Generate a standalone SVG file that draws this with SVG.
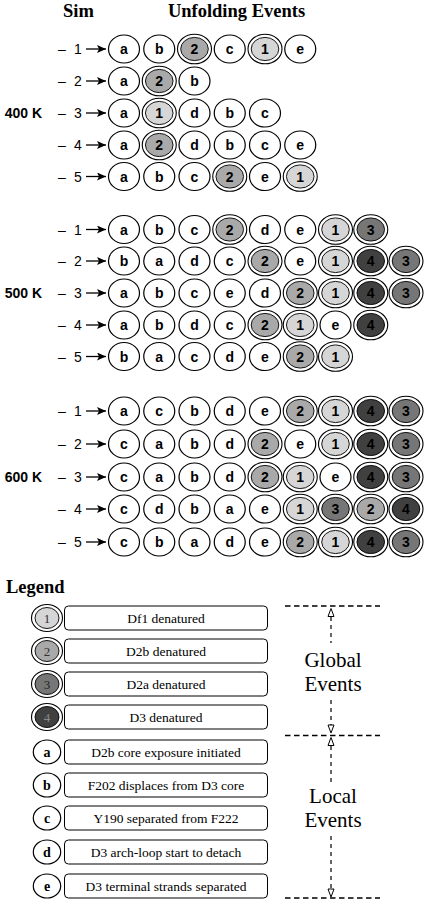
<svg xmlns="http://www.w3.org/2000/svg" xmlns:xlink="http://www.w3.org/1999/xlink" width="426" height="901" viewBox="0 0 426 901">
<style>
.t{font-family:"Liberation Sans",Arial,sans-serif;font-weight:bold;font-size:14px;text-anchor:middle;fill:#000}
.lb{font-family:"Liberation Sans",Arial,sans-serif;font-size:14px;text-anchor:middle;fill:#000}
.temp{font-family:"Liberation Sans",Arial,sans-serif;font-weight:bold;font-size:14px;text-anchor:end;fill:#000}
.hd{font-family:"Liberation Serif","Times New Roman",serif;font-weight:bold;font-size:18.5px;fill:#000}
.lt{font-family:"Liberation Serif","Times New Roman",serif;font-size:13.5px;text-anchor:middle;fill:#000}
.ln{font-family:"Liberation Serif","Times New Roman",serif;font-size:13px;text-anchor:middle;fill:#333}
.ll{font-family:"Liberation Serif","Times New Roman",serif;font-weight:bold;font-size:14px;text-anchor:middle;fill:#000}
.big{font-family:"Liberation Serif","Times New Roman",serif;font-size:21px;text-anchor:middle;fill:#000}
.box{fill:#fff;stroke:#000;stroke-width:1}
.arr{stroke:#000;stroke-width:1.3;fill:none}
.hdash{stroke:#000;stroke-width:1.3;stroke-dasharray:5.5,3.5;fill:none}
.vdash{stroke:#000;stroke-width:1.2;stroke-dasharray:4,4;fill:none}
.oh{fill:#fff;stroke:#000;stroke-width:1}
</style>
<defs>
<ellipse id="pc" rx="15.5" ry="14" fill="#fff" stroke="#000" stroke-width="1.2"/>
<g id="r1"><ellipse rx="17" ry="14.8" fill="#fff" stroke="#000" stroke-width="1.1"/><ellipse rx="13.8" ry="11.6" fill="#d6d6d6" stroke="#000" stroke-width="0.9"/></g>
<g id="r2"><ellipse rx="17" ry="14.8" fill="#fff" stroke="#000" stroke-width="1.1"/><ellipse rx="13.8" ry="11.6" fill="#a9a9a9" stroke="#000" stroke-width="0.9"/></g>
<g id="r3"><ellipse rx="17" ry="14.8" fill="#fff" stroke="#000" stroke-width="1.1"/><ellipse rx="13.8" ry="11.6" fill="#767676" stroke="#000" stroke-width="0.9"/></g>
<g id="r4"><ellipse rx="17" ry="14.8" fill="#fff" stroke="#000" stroke-width="1.1"/><ellipse rx="13.8" ry="11.6" fill="#404040" stroke="#000" stroke-width="0.9"/></g>
<ellipse id="lpc" rx="13.7" ry="12" fill="#fff" stroke="#000" stroke-width="1.2"/>
<g id="lr1"><ellipse rx="15.5" ry="13.5" fill="#fff" stroke="#000" stroke-width="1.1"/><ellipse rx="12" ry="10.5" fill="#d6d6d6" stroke="#000" stroke-width="0.9"/></g>
<g id="lr2"><ellipse rx="15.5" ry="13.5" fill="#fff" stroke="#000" stroke-width="1.1"/><ellipse rx="12" ry="10.5" fill="#a9a9a9" stroke="#000" stroke-width="0.9"/></g>
<g id="lr3"><ellipse rx="15.5" ry="13.5" fill="#fff" stroke="#000" stroke-width="1.1"/><ellipse rx="12" ry="10.5" fill="#767676" stroke="#000" stroke-width="0.9"/></g>
<g id="lr4"><ellipse rx="15.5" ry="13.5" fill="#fff" stroke="#000" stroke-width="1.1"/><ellipse rx="12" ry="10.5" fill="#404040" stroke="#000" stroke-width="0.9"/></g>
<marker id="ah" markerWidth="10" markerHeight="8" refX="9" refY="4" orient="auto" markerUnits="userSpaceOnUse"><path d="M0,0 L9,4 L0,8 L2,4 Z" fill="#000"/></marker>
</defs>
<rect width="426" height="901" fill="#fff"/>

<g id="headers">
<text class="hd" x="78.5" y="16.5" text-anchor="middle">Sim</text>
<text class="hd" x="236.5" y="16.5" text-anchor="middle">Unfolding Events</text>
<text class="temp" x="42" y="118">400 K</text>
<text class="temp" x="42" y="298">500 K</text>
<text class="temp" x="42" y="482">600 K</text>
</g>

<g id="row-labels">
<text class="lb" x="62" y="54">–</text><text class="lb" x="78" y="54">1</text>
<text class="lb" x="62" y="86">–</text><text class="lb" x="78" y="86">2</text>
<text class="lb" x="62" y="118">–</text><text class="lb" x="78" y="118">3</text>
<text class="lb" x="62" y="150">–</text><text class="lb" x="78" y="150">4</text>
<text class="lb" x="62" y="181.5">–</text><text class="lb" x="78" y="181.5">5</text>
<text class="lb" x="62" y="234.5">–</text><text class="lb" x="78" y="234.5">1</text>
<text class="lb" x="62" y="266">–</text><text class="lb" x="78" y="266">2</text>
<text class="lb" x="62" y="298">–</text><text class="lb" x="78" y="298">3</text>
<text class="lb" x="62" y="330">–</text><text class="lb" x="78" y="330">4</text>
<text class="lb" x="62" y="361.5">–</text><text class="lb" x="78" y="361.5">5</text>
<text class="lb" x="62" y="416">–</text><text class="lb" x="78" y="416">1</text>
<text class="lb" x="62" y="449">–</text><text class="lb" x="78" y="449">2</text>
<text class="lb" x="62" y="482">–</text><text class="lb" x="78" y="482">3</text>
<text class="lb" x="62" y="514">–</text><text class="lb" x="78" y="514">4</text>
<text class="lb" x="62" y="547">–</text><text class="lb" x="78" y="547">5</text>
</g>

<g id="connectors">
<line class="arr" x1="86" y1="49" x2="106" y2="49" marker-end="url(#ah)"/>
<line class="arr" x1="86" y1="81" x2="106" y2="81" marker-end="url(#ah)"/>
<line class="arr" x1="86" y1="113" x2="106" y2="113" marker-end="url(#ah)"/>
<line class="arr" x1="86" y1="145" x2="106" y2="145" marker-end="url(#ah)"/>
<line class="arr" x1="86" y1="176.5" x2="106" y2="176.5" marker-end="url(#ah)"/>
<line class="arr" x1="86" y1="229.5" x2="106" y2="229.5" marker-end="url(#ah)"/>
<line class="arr" x1="86" y1="261" x2="106" y2="261" marker-end="url(#ah)"/>
<line class="arr" x1="86" y1="293" x2="106" y2="293" marker-end="url(#ah)"/>
<line class="arr" x1="86" y1="325" x2="106" y2="325" marker-end="url(#ah)"/>
<line class="arr" x1="86" y1="356.5" x2="106" y2="356.5" marker-end="url(#ah)"/>
<line class="arr" x1="86" y1="411" x2="106" y2="411" marker-end="url(#ah)"/>
<line class="arr" x1="86" y1="444" x2="106" y2="444" marker-end="url(#ah)"/>
<line class="arr" x1="86" y1="477" x2="106" y2="477" marker-end="url(#ah)"/>
<line class="arr" x1="86" y1="509" x2="106" y2="509" marker-end="url(#ah)"/>
<line class="arr" x1="86" y1="542" x2="106" y2="542" marker-end="url(#ah)"/>
</g>

<g id="sim400">
<g id="n4-1-1" transform="translate(124,49)"><use href="#pc"/><text class="t" y="5">a</text></g>
<g id="n4-1-2" transform="translate(159.25,49)"><use href="#pc"/><text class="t" y="5">b</text></g>
<g id="n4-1-3" transform="translate(194.5,49)"><use href="#r2"/><text class="t" y="5">2</text></g>
<g id="n4-1-4" transform="translate(229.75,49)"><use href="#pc"/><text class="t" y="5">c</text></g>
<g id="n4-1-5" transform="translate(265,49)"><use href="#r1"/><text class="t" y="5">1</text></g>
<g id="n4-1-6" transform="translate(300.25,49)"><use href="#pc"/><text class="t" y="5">e</text></g>

<g id="n4-2-1" transform="translate(124,81)"><use href="#pc"/><text class="t" y="5">a</text></g>
<g id="n4-2-2" transform="translate(159.25,81)"><use href="#r2"/><text class="t" y="5">2</text></g>
<g id="n4-2-3" transform="translate(194.5,81)"><use href="#pc"/><text class="t" y="5">b</text></g>

<g id="n4-3-1" transform="translate(124,113)"><use href="#pc"/><text class="t" y="5">a</text></g>
<g id="n4-3-2" transform="translate(159.25,113)"><use href="#r1"/><text class="t" y="5">1</text></g>
<g id="n4-3-3" transform="translate(194.5,113)"><use href="#pc"/><text class="t" y="5">d</text></g>
<g id="n4-3-4" transform="translate(229.75,113)"><use href="#pc"/><text class="t" y="5">b</text></g>
<g id="n4-3-5" transform="translate(265,113)"><use href="#pc"/><text class="t" y="5">c</text></g>

<g id="n4-4-1" transform="translate(124,145)"><use href="#pc"/><text class="t" y="5">a</text></g>
<g id="n4-4-2" transform="translate(159.25,145)"><use href="#r2"/><text class="t" y="5">2</text></g>
<g id="n4-4-3" transform="translate(194.5,145)"><use href="#pc"/><text class="t" y="5">d</text></g>
<g id="n4-4-4" transform="translate(229.75,145)"><use href="#pc"/><text class="t" y="5">b</text></g>
<g id="n4-4-5" transform="translate(265,145)"><use href="#pc"/><text class="t" y="5">c</text></g>
<g id="n4-4-6" transform="translate(300.25,145)"><use href="#pc"/><text class="t" y="5">e</text></g>

<g id="n4-5-1" transform="translate(124,176.5)"><use href="#pc"/><text class="t" y="5">a</text></g>
<g id="n4-5-2" transform="translate(159.25,176.5)"><use href="#pc"/><text class="t" y="5">b</text></g>
<g id="n4-5-3" transform="translate(194.5,176.5)"><use href="#pc"/><text class="t" y="5">c</text></g>
<g id="n4-5-4" transform="translate(229.75,176.5)"><use href="#r2"/><text class="t" y="5">2</text></g>
<g id="n4-5-5" transform="translate(265,176.5)"><use href="#pc"/><text class="t" y="5">e</text></g>
<g id="n4-5-6" transform="translate(300.25,176.5)"><use href="#r1"/><text class="t" y="5">1</text></g>
</g>

<g id="sim500">
<g id="n5-1-1" transform="translate(124,229.5)"><use href="#pc"/><text class="t" y="5">a</text></g>
<g id="n5-1-2" transform="translate(159.25,229.5)"><use href="#pc"/><text class="t" y="5">b</text></g>
<g id="n5-1-3" transform="translate(194.5,229.5)"><use href="#pc"/><text class="t" y="5">c</text></g>
<g id="n5-1-4" transform="translate(229.75,229.5)"><use href="#r2"/><text class="t" y="5">2</text></g>
<g id="n5-1-5" transform="translate(265,229.5)"><use href="#pc"/><text class="t" y="5">d</text></g>
<g id="n5-1-6" transform="translate(300.25,229.5)"><use href="#pc"/><text class="t" y="5">e</text></g>
<g id="n5-1-7" transform="translate(335.5,229.5)"><use href="#r1"/><text class="t" y="5">1</text></g>
<g id="n5-1-8" transform="translate(370.75,229.5)"><use href="#r3"/><text class="t" y="5">3</text></g>

<g id="n5-2-1" transform="translate(124,261)"><use href="#pc"/><text class="t" y="5">b</text></g>
<g id="n5-2-2" transform="translate(159.25,261)"><use href="#pc"/><text class="t" y="5">a</text></g>
<g id="n5-2-3" transform="translate(194.5,261)"><use href="#pc"/><text class="t" y="5">d</text></g>
<g id="n5-2-4" transform="translate(229.75,261)"><use href="#pc"/><text class="t" y="5">c</text></g>
<g id="n5-2-5" transform="translate(265,261)"><use href="#r2"/><text class="t" y="5">2</text></g>
<g id="n5-2-6" transform="translate(300.25,261)"><use href="#pc"/><text class="t" y="5">e</text></g>
<g id="n5-2-7" transform="translate(335.5,261)"><use href="#r1"/><text class="t" y="5">1</text></g>
<g id="n5-2-8" transform="translate(370.75,261)"><use href="#r4"/><text class="t" y="5">4</text></g>
<g id="n5-2-9" transform="translate(406,261)"><use href="#r3"/><text class="t" y="5">3</text></g>

<g id="n5-3-1" transform="translate(124,293)"><use href="#pc"/><text class="t" y="5">a</text></g>
<g id="n5-3-2" transform="translate(159.25,293)"><use href="#pc"/><text class="t" y="5">b</text></g>
<g id="n5-3-3" transform="translate(194.5,293)"><use href="#pc"/><text class="t" y="5">c</text></g>
<g id="n5-3-4" transform="translate(229.75,293)"><use href="#pc"/><text class="t" y="5">e</text></g>
<g id="n5-3-5" transform="translate(265,293)"><use href="#pc"/><text class="t" y="5">d</text></g>
<g id="n5-3-6" transform="translate(300.25,293)"><use href="#r2"/><text class="t" y="5">2</text></g>
<g id="n5-3-7" transform="translate(335.5,293)"><use href="#r1"/><text class="t" y="5">1</text></g>
<g id="n5-3-8" transform="translate(370.75,293)"><use href="#r4"/><text class="t" y="5">4</text></g>
<g id="n5-3-9" transform="translate(406,293)"><use href="#r3"/><text class="t" y="5">3</text></g>

<g id="n5-4-1" transform="translate(124,325)"><use href="#pc"/><text class="t" y="5">a</text></g>
<g id="n5-4-2" transform="translate(159.25,325)"><use href="#pc"/><text class="t" y="5">b</text></g>
<g id="n5-4-3" transform="translate(194.5,325)"><use href="#pc"/><text class="t" y="5">d</text></g>
<g id="n5-4-4" transform="translate(229.75,325)"><use href="#pc"/><text class="t" y="5">c</text></g>
<g id="n5-4-5" transform="translate(265,325)"><use href="#r2"/><text class="t" y="5">2</text></g>
<g id="n5-4-6" transform="translate(300.25,325)"><use href="#r1"/><text class="t" y="5">1</text></g>
<g id="n5-4-7" transform="translate(335.5,325)"><use href="#pc"/><text class="t" y="5">e</text></g>
<g id="n5-4-8" transform="translate(370.75,325)"><use href="#r4"/><text class="t" y="5">4</text></g>

<g id="n5-5-1" transform="translate(124,356.5)"><use href="#pc"/><text class="t" y="5">b</text></g>
<g id="n5-5-2" transform="translate(159.25,356.5)"><use href="#pc"/><text class="t" y="5">a</text></g>
<g id="n5-5-3" transform="translate(194.5,356.5)"><use href="#pc"/><text class="t" y="5">c</text></g>
<g id="n5-5-4" transform="translate(229.75,356.5)"><use href="#pc"/><text class="t" y="5">d</text></g>
<g id="n5-5-5" transform="translate(265,356.5)"><use href="#pc"/><text class="t" y="5">e</text></g>
<g id="n5-5-6" transform="translate(300.25,356.5)"><use href="#r2"/><text class="t" y="5">2</text></g>
<g id="n5-5-7" transform="translate(335.5,356.5)"><use href="#r1"/><text class="t" y="5">1</text></g>
</g>

<g id="sim600">
<g id="n6-1-1" transform="translate(124,411)"><use href="#pc"/><text class="t" y="5">a</text></g>
<g id="n6-1-2" transform="translate(159.25,411)"><use href="#pc"/><text class="t" y="5">c</text></g>
<g id="n6-1-3" transform="translate(194.5,411)"><use href="#pc"/><text class="t" y="5">b</text></g>
<g id="n6-1-4" transform="translate(229.75,411)"><use href="#pc"/><text class="t" y="5">d</text></g>
<g id="n6-1-5" transform="translate(265,411)"><use href="#pc"/><text class="t" y="5">e</text></g>
<g id="n6-1-6" transform="translate(300.25,411)"><use href="#r2"/><text class="t" y="5">2</text></g>
<g id="n6-1-7" transform="translate(335.5,411)"><use href="#r1"/><text class="t" y="5">1</text></g>
<g id="n6-1-8" transform="translate(370.75,411)"><use href="#r4"/><text class="t" y="5">4</text></g>
<g id="n6-1-9" transform="translate(406,411)"><use href="#r3"/><text class="t" y="5">3</text></g>

<g id="n6-2-1" transform="translate(124,444)"><use href="#pc"/><text class="t" y="5">c</text></g>
<g id="n6-2-2" transform="translate(159.25,444)"><use href="#pc"/><text class="t" y="5">a</text></g>
<g id="n6-2-3" transform="translate(194.5,444)"><use href="#pc"/><text class="t" y="5">b</text></g>
<g id="n6-2-4" transform="translate(229.75,444)"><use href="#pc"/><text class="t" y="5">d</text></g>
<g id="n6-2-5" transform="translate(265,444)"><use href="#r2"/><text class="t" y="5">2</text></g>
<g id="n6-2-6" transform="translate(300.25,444)"><use href="#pc"/><text class="t" y="5">e</text></g>
<g id="n6-2-7" transform="translate(335.5,444)"><use href="#r1"/><text class="t" y="5">1</text></g>
<g id="n6-2-8" transform="translate(370.75,444)"><use href="#r4"/><text class="t" y="5">4</text></g>
<g id="n6-2-9" transform="translate(406,444)"><use href="#r3"/><text class="t" y="5">3</text></g>

<g id="n6-3-1" transform="translate(124,477)"><use href="#pc"/><text class="t" y="5">c</text></g>
<g id="n6-3-2" transform="translate(159.25,477)"><use href="#pc"/><text class="t" y="5">a</text></g>
<g id="n6-3-3" transform="translate(194.5,477)"><use href="#pc"/><text class="t" y="5">b</text></g>
<g id="n6-3-4" transform="translate(229.75,477)"><use href="#pc"/><text class="t" y="5">d</text></g>
<g id="n6-3-5" transform="translate(265,477)"><use href="#r2"/><text class="t" y="5">2</text></g>
<g id="n6-3-6" transform="translate(300.25,477)"><use href="#r1"/><text class="t" y="5">1</text></g>
<g id="n6-3-7" transform="translate(335.5,477)"><use href="#pc"/><text class="t" y="5">e</text></g>
<g id="n6-3-8" transform="translate(370.75,477)"><use href="#r4"/><text class="t" y="5">4</text></g>
<g id="n6-3-9" transform="translate(406,477)"><use href="#r3"/><text class="t" y="5">3</text></g>

<g id="n6-4-1" transform="translate(124,509)"><use href="#pc"/><text class="t" y="5">c</text></g>
<g id="n6-4-2" transform="translate(159.25,509)"><use href="#pc"/><text class="t" y="5">d</text></g>
<g id="n6-4-3" transform="translate(194.5,509)"><use href="#pc"/><text class="t" y="5">b</text></g>
<g id="n6-4-4" transform="translate(229.75,509)"><use href="#pc"/><text class="t" y="5">a</text></g>
<g id="n6-4-5" transform="translate(265,509)"><use href="#pc"/><text class="t" y="5">e</text></g>
<g id="n6-4-6" transform="translate(300.25,509)"><use href="#r1"/><text class="t" y="5">1</text></g>
<g id="n6-4-7" transform="translate(335.5,509)"><use href="#r3"/><text class="t" y="5">3</text></g>
<g id="n6-4-8" transform="translate(370.75,509)"><use href="#r2"/><text class="t" y="5">2</text></g>
<g id="n6-4-9" transform="translate(406,509)"><use href="#r4"/><text class="t" y="5">4</text></g>

<g id="n6-5-1" transform="translate(124,542)"><use href="#pc"/><text class="t" y="5">c</text></g>
<g id="n6-5-2" transform="translate(159.25,542)"><use href="#pc"/><text class="t" y="5">b</text></g>
<g id="n6-5-3" transform="translate(194.5,542)"><use href="#pc"/><text class="t" y="5">a</text></g>
<g id="n6-5-4" transform="translate(229.75,542)"><use href="#pc"/><text class="t" y="5">d</text></g>
<g id="n6-5-5" transform="translate(265,542)"><use href="#pc"/><text class="t" y="5">e</text></g>
<g id="n6-5-6" transform="translate(300.25,542)"><use href="#r2"/><text class="t" y="5">2</text></g>
<g id="n6-5-7" transform="translate(335.5,542)"><use href="#r1"/><text class="t" y="5">1</text></g>
<g id="n6-5-8" transform="translate(370.75,542)"><use href="#r4"/><text class="t" y="5">4</text></g>
<g id="n6-5-9" transform="translate(406,542)"><use href="#r3"/><text class="t" y="5">3</text></g>
</g>

<g id="legend">
<text class="hd" x="6" y="593">Legend</text>
<g id="leg-1"><use href="#lr1" x="47" y="618"/><text class="ln" x="47" y="622.5">1</text><rect class="box" x="64.5" y="606" width="203" height="24" rx="4"/><text class="lt" x="166" y="623">Df1 denatured</text></g>
<g id="leg-2"><use href="#lr2" x="47" y="651"/><text class="ln" x="47" y="655.5">2</text><rect class="box" x="64.5" y="639" width="203" height="24" rx="4"/><text class="lt" x="166" y="656">D2b denatured</text></g>
<g id="leg-3"><use href="#lr3" x="47" y="684"/><text class="ln" x="47" y="688.5" fill="#222" style="fill:#222">3</text><rect class="box" x="64.5" y="672" width="203" height="24" rx="4"/><text class="lt" x="166" y="689">D2a denatured</text></g>
<g id="leg-4"><use href="#lr4" x="47" y="717"/><text class="ln" x="47" y="721.5" style="fill:#8a8a8a">4</text><rect class="box" x="64.5" y="705" width="203" height="24" rx="4"/><text class="lt" x="166" y="722">D3 denatured</text></g>
<g id="leg-a"><use href="#lpc" x="47" y="752"/><text class="ll" x="47" y="756.5">a</text><rect class="box" x="64.5" y="740" width="203" height="24" rx="4"/><text class="lt" x="166" y="757">D2b core exposure initiated</text></g>
<g id="leg-b"><use href="#lpc" x="47" y="785"/><text class="ll" x="47" y="789.5">b</text><rect class="box" x="64.5" y="773" width="203" height="24" rx="4"/><text class="lt" x="166" y="790">F202 displaces from D3 core</text></g>
<g id="leg-c"><use href="#lpc" x="47" y="818"/><text class="ll" x="47" y="822.5">c</text><rect class="box" x="64.5" y="806" width="203" height="24" rx="4"/><text class="lt" x="166" y="823">Y190 separated from F222</text></g>
<g id="leg-d"><use href="#lpc" x="47" y="852"/><text class="ll" x="47" y="856.5">d</text><rect class="box" x="64.5" y="840" width="203" height="24" rx="4"/><text class="lt" x="166" y="857">D3 arch-loop start to detach</text></g>
<g id="leg-e"><use href="#lpc" x="47" y="886"/><text class="ll" x="47" y="890.5">e</text><rect class="box" x="64.5" y="874" width="203" height="24" rx="4"/><text class="lt" x="166" y="891">D3 terminal strands separated</text></g>
</g>

<g id="brackets">
<line class="hdash" x1="285" y1="606" x2="380" y2="606"/>
<line class="hdash" x1="285" y1="735.5" x2="380" y2="735.5"/>
<line class="hdash" x1="285" y1="898" x2="380" y2="898"/>
<line class="vdash" x1="331" y1="617" x2="331" y2="643"/>
<line class="vdash" x1="331" y1="700" x2="331" y2="725"/>
<line class="vdash" x1="331" y1="746" x2="331" y2="782"/>
<line class="vdash" x1="331" y1="836" x2="331" y2="889"/>
<path class="oh" d="M331,608.5 L334,616.5 L328,616.5 Z"/>
<path class="oh" d="M331,733 L334,725 L328,725 Z"/>
<path class="oh" d="M331,737.5 L334,745.5 L328,745.5 Z"/>
<path class="oh" d="M331,897 L334,889 L328,889 Z"/>
<text class="big" x="333" y="667">Global</text>
<text class="big" x="333" y="691">Events</text>
<text class="big" x="333" y="803">Local</text>
<text class="big" x="333" y="827">Events</text>
</g>
</svg>
